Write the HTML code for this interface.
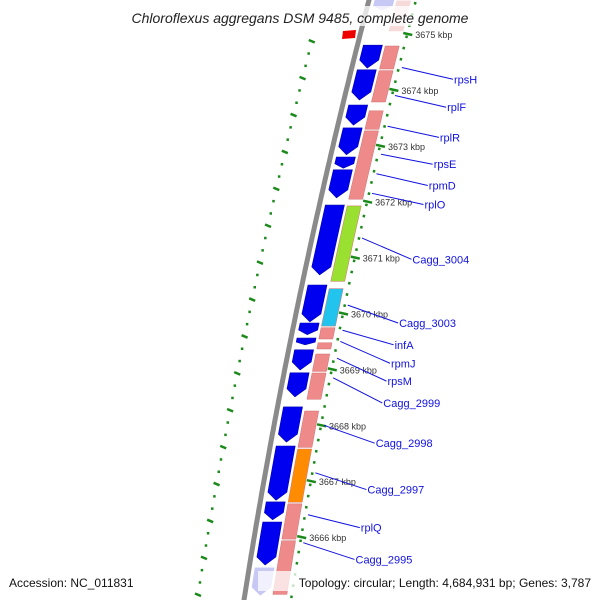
<!DOCTYPE html>
<html><head><meta charset="utf-8"><style>
html,body{margin:0;padding:0;background:#fff;}
svg{display:block;font-family:"Liberation Sans",sans-serif;}
</style></head><body>
<svg id="map" width="600" height="600" viewBox="0 0 600 600">
<g id="rings"></g>
<g id="genes"></g>
<g id="ticks"></g>
<g id="labels"></g>
<rect x="112" y="6" width="376" height="20" fill="#fff" fill-opacity="0.75"/>
<text x="300" y="23" text-anchor="middle" font-size="14" font-style="italic" fill="#222">Chloroflexus aggregans DSM 9485, complete genome</text>
<text x="9" y="587" font-size="12" fill="#111">Accession: NC_011831</text>
<rect x="258" y="571" width="336" height="20" fill="#fff" fill-opacity="0.75"/>
<text x="591" y="587" text-anchor="end" font-size="12" fill="#111">Topology: circular; Length: 4,684,931 bp; Genes: 3,787</text>
</svg>
<script>
// data (positions in kbp)
const tickKbp = [3675,3674,3673,3672,3671,3670,3669,3668,3667,3666];
const tickLabels = ["3675 kbp","3674 kbp","3673 kbp","3672 kbp","3671 kbp","3670 kbp","3669 kbp","3668 kbp","3667 kbp","3666 kbp"];
const blueStart = [3675.61,3674.80,3674.36,3673.73,3673.32,3672.80,3672.57,3671.94,3670.51,3669.83,3669.56,3669.35,3668.94,3668.33,3667.63,3666.63,3666.27,3665.45];
const blueEnd   = [3675.43,3674.39,3673.82,3673.37,3672.84,3672.60,3672.07,3670.69,3669.85,3669.62,3669.44,3668.99,3668.51,3667.70,3666.66,3666.31,3665.50,3664.96];
const pinkStart = [3675.61,3674.80,3674.36,3673.64,3673.28,3671.94,3670.46,3669.76,3669.49,3669.29,3668.95,3668.27,3667.59,3666.61,3665.95];
const pinkEnd   = [3675.04,3674.36,3673.77,3673.28,3672.03,3670.56,3669.76,3669.53,3669.35,3668.95,3668.45,3667.59,3666.61,3665.95,3664.96];
const pinkType  = ["faint","rrna","rrna","rrna","rrna","green","cyan","rrna","rrna","rrna","rrna","rrna","orange","rrna","rrna"];
const geneNames = ["rpsH","rplF","rplR","rpsE","rpmD","rplO","Cagg_3004","Cagg_3003","infA","rpmJ","rpsM","Cagg_2999","Cagg_2998","Cagg_2997","rplQ","Cagg_2995"];
const geneKbp   = [3674.40,3673.90,3673.35,3672.85,3672.50,3672.15,3671.35,3670.15,3669.70,3669.50,3669.20,3668.85,3668.00,3667.15,3666.40,3665.90];
const labelKbp  = [3674.19,3673.69,3673.15,3672.67,3672.29,3671.95,3670.97,3669.83,3669.44,3669.11,3668.79,3668.40,3667.68,3666.85,3666.17,3665.60];

const NS="http://www.w3.org/2000/svg";
function Y(k){return 34+(3675-k)*55.9;}
function gx(y){return 369-0.2596*y+0.0000854*y*y;}
function mk(tag,attrs,parent){const e=document.createElementNS(NS,tag);for(const a in attrs)e.setAttribute(a,attrs[a]);parent.appendChild(e);return e;}
const rings=document.getElementById('rings'),genes=document.getElementById('genes'),ticks=document.getElementById('ticks'),labels=document.getElementById('labels');

// backbone
let d="";for(let y=-5;y<=605;y+=5){d+=(y<0?"M":"L")+gx(y).toFixed(1)+","+y+" ";}
const bb=mk('path',{d:d,stroke:'#8a8a8a','stroke-width':5,fill:'none'},rings);



// dotted rings
for(let y=2;y<600;y+=11.2){
  const a=mk('line',{x1:gx(y)+47,y1:y,x2:gx(y+2.5)+47,y2:y+2.5,stroke:'#1a8a1a','stroke-width':2.5},rings);
  
  
}
for(let y=40;y<600;y+=12.3){
  const big=Math.round(y/12.3)%3===0;
  const a=mk('line',{x1:gx(y)-47-(big?3:0),y1:y,x2:gx(y)-47+(big?3:0),y2:y+2.5,stroke:'#1a8a1a','stroke-width':2.5},rings);
  
  
}

function band(y1,y2,o1,o2){let p=[];for(let i=0;i<=6;i++){const y=y1+(y2-y1)*i/6;p.push([gx(y)+o1,y]);}for(let i=6;i>=0;i--){const y=y1+(y2-y1)*i/6;p.push([gx(y)+o2,y]);}return p;}
// blue genes (arrows pointing down)
blueStart.forEach((s,i)=>{
  const y1=Y(s),y2=Y(blueEnd[i]);const h=Math.min(8,(y2-y1)*0.4);
  const o1=6,o2=25,ya=y2-h;
  const pts=[[gx(y1)+o1,y1],[gx(y1)+o2,y1],[gx(ya)+o2,ya],[gx(y2)+(o1+o2)/2,y2],[gx(ya)+o1,ya]];
  const faint=(i===0||i===blueStart.length-1);
  const p=mk('polygon',{points:pts.map(q=>q[0].toFixed(1)+","+q[1].toFixed(1)).join(" "),fill:faint?'#c8c8f5':'#0000f0',stroke:faint?'#c8c8f5':'#0000b0','stroke-width':0.6},genes);
  
  
});
const colors={faint:'#f6dada',rrna:'#ee8a8a',green:'#99e030',cyan:'#22c4ee',orange:'#ff8c00'};
pinkStart.forEach((s,i)=>{
  const y1=Y(s)+0.8,y2=Y(pinkEnd[i])-0.8;
  const pts=band(y1,y2,28,42);
  const p=mk('polygon',{points:pts.map(q=>q[0].toFixed(1)+","+q[1].toFixed(1)).join(" "),fill:colors[pinkType[i]],stroke:pinkType[i]==='faint'?'#f6dada':'#d07070','stroke-width':0.5},genes);
  
  
});
// red marker
const rm=mk('polygon',{points:"343,31 356,30 355,38 342,39",fill:'#ee0000'},genes);



// ticks
tickKbp.forEach((k,i)=>{
  const y=Y(k);
  const t=mk('line',{x1:gx(y)+43,y1:y-1,x2:gx(y)+52,y2:y+1,stroke:'#1a8a1a','stroke-width':2.5},ticks);
  
  
  const tx=mk('text',{x:(gx(y)+55).toFixed(1),y:(y+4).toFixed(1),'font-size':9,fill:'#333'},ticks);
  tx.textContent=tickLabels[i];
  
  
});

// gene labels
geneNames.forEach((n,i)=>{
  const y0=Y(geneKbp[i]),yl=Y(labelKbp[i]);
  const x0=gx(y0)+50,xl=gx(yl)+105;
  const l=mk('line',{x1:x0,y1:y0,x2:xl-1,y2:yl,stroke:'#1010e0','stroke-width':1},labels);
  
  
  const t=mk('text',{x:xl.toFixed(1),y:(yl+4).toFixed(1),'font-size':11,fill:'#1010e0'},labels);
  t.textContent=n;
  
  
});
</script>
</body></html>
